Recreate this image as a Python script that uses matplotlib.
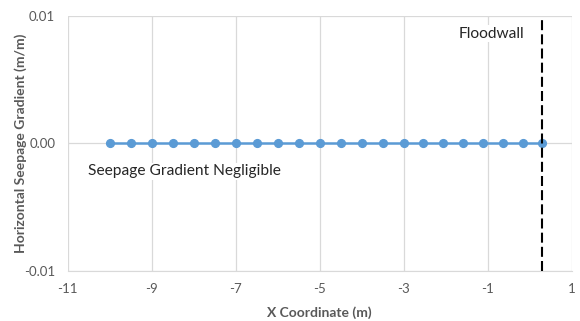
import matplotlib
matplotlib.use("Agg")
import matplotlib.pyplot as plt

plt.rcParams['font.family'] = ['Lato', 'DejaVu Sans']

# Node x positions along the section and the horizontal seepage gradient at each
x_coord = [-10.0, -9.5, -9.0, -8.5, -8.0, -7.5, -7.0, -6.5, -6.0, -5.5, -5.0,
           -4.5, -4.0, -3.5, -3.0, -2.53, -2.06, -1.59, -1.11, -0.64, -0.17, 0.3]
gradient = [0.0] * len(x_coord)
floodwall_x = 0.3

x_ticks = [-11, -9, -7, -5, -3, -1, 1]
y_ticks = [-0.01, 0.0, 0.01]
y_tick_labels = ['-0.01', '0.00', '0.01']

grey = '#595959'
grid_grey = '#d9d9d9'

fig = plt.figure(figsize=(5.8, 3.21), dpi=100)
ax = fig.add_axes([0.1167, 0.1567, 0.8690, 0.7944])

ax.plot(x_coord, gradient, color='#5b9bd5', lw=1.8, marker='o', ms=5.6, zorder=3)
ax.axvline(floodwall_x, color='black', lw=1.5, ls=(0, (4.8, 2.0)), zorder=4)

ax.set_xlim(-11, 1)
ax.set_ylim(-0.01, 0.01)
ax.set_xticks(x_ticks)
ax.set_xticklabels([str(t) for t in x_ticks])
ax.set_yticks(y_ticks)
ax.set_yticklabels(y_tick_labels)
ax.grid(True, color=grid_grey, lw=0.9, zorder=0)
ax.set_axisbelow(True)
for side in ['top', 'right', 'left']:
    ax.spines[side].set_visible(False)
ax.spines['bottom'].set_color(grid_grey)
ax.tick_params(axis='x', length=0, labelsize=9.5, labelcolor=grey, pad=9)
ax.tick_params(axis='y', length=0, labelsize=9.5, labelcolor=grey, pad=9)

ax.set_xlabel('X Coordinate (m)', fontsize=10, fontweight='bold', color=grey, labelpad=8)
ax.set_ylabel('Horizontal Seepage Gradient (m/m)', fontsize=10, fontweight='bold',
              color=grey, labelpad=-2)

ax.text(-10.52, -0.0022, 'Seepage Gradient Negligible', fontsize=11.2, color='#262626',
        ha='left', va='center', bbox=dict(facecolor='white', edgecolor='none', pad=1),
        zorder=5)
ax.text(-0.9, 0.0086, 'Floodwall', fontsize=11.2, color='#262626', ha='center',
        va='center', bbox=dict(facecolor='white', edgecolor='none', pad=1), zorder=5)

fig.savefig('out.png', dpi=100)
